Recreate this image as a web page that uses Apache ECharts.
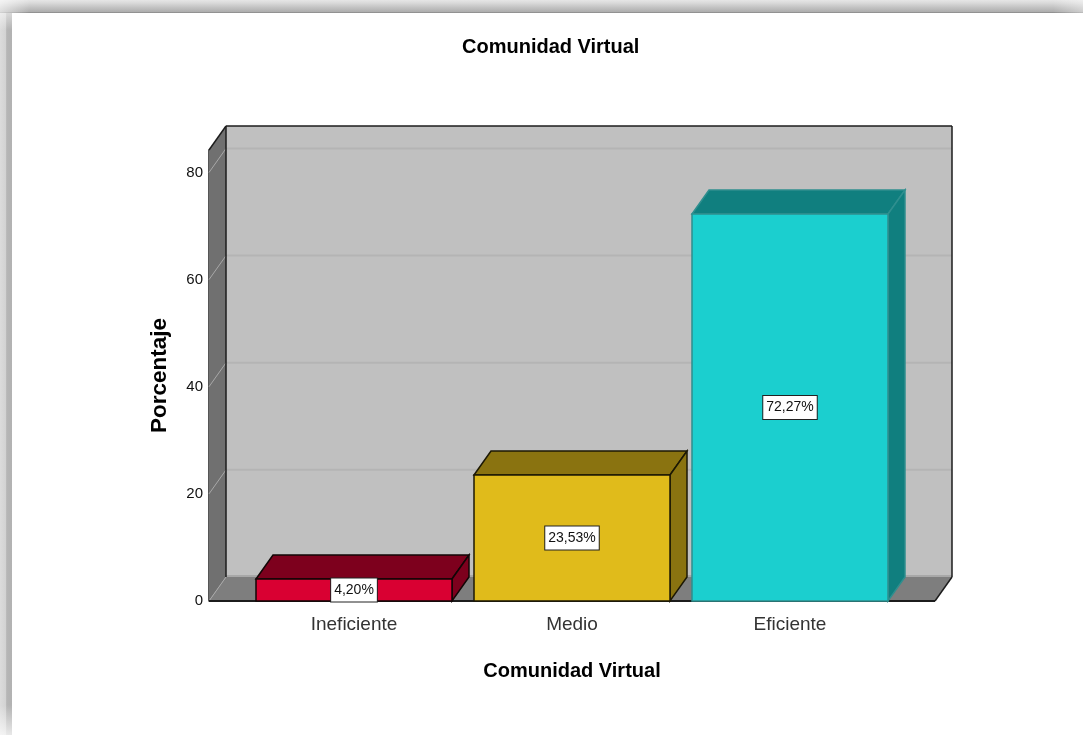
<!DOCTYPE html>
<html><head><meta charset="utf-8">
<style>html,body{margin:0;padding:0;background:#fff;overflow:hidden}#c{width:1083px;height:735px}</style>
<script src="https://cdn.jsdelivr.net/npm/echarts@6/dist/echarts.min.js"></script>
</head><body><div id="c"></div>
<script>
const categories = ['Ineficiente', 'Medio', 'Eficiente'];
const percentages = [4.2, 23.53, 72.27];
const percentLabels = ['4,20%', '23,53%', '72,27%'];
const frontColors = ['#d90032', '#e0bb1b', '#1bcfcf'];
const darkColors = ['#7d001d', '#8a7310', '#107f7f'];
const edgeColors = ['#120606', '#1c1804', '#2f8f8f'];
const gridValues = [20, 40, 60, 80];
const yTop = 84.2;

const DX = 17, DY = -24, BAR_FRACTION = 196 / 218, SIDE_BANDS = 145 / 218;
const FONT = '"Liberation Sans", Arial, sans-serif';

function poly(points, fill, stroke, lw) {
  return { type: 'polygon', shape: { points }, style: { fill, stroke: stroke || null, lineWidth: lw || 1 } };
}
function line(x1, y1, x2, y2, stroke, lw) {
  return { type: 'line', shape: { x1, y1, x2, y2 }, style: { stroke, lineWidth: lw || 1, fill: null } };
}

function renderRoom(params, api) {
  const band = api.size([1, 0])[0];
  const l = api.coord([0, 0])[0] - SIDE_BANDS * band;
  const r = api.coord([2, 0])[0] + SIDE_BANDS * band;
  const b = api.coord([0, 0])[1];
  const t = api.coord([0, yTop])[1];
  const k = '#1c1c1c';
  const children = [
    poly([[l + DX, t + DY], [r + DX, t + DY], [r + DX, b + DY], [l + DX, b + DY]], '#c0c0c0'),
    poly([[l, t], [l + DX, t + DY], [l + DX, b + DY], [l, b]], '#707070'),
    poly([[l, b], [l + DX, b + DY], [r + DX, b + DY], [r, b]], '#7e7e7e')
  ];
  gridValues.forEach(v => {
    const y = api.coord([0, v])[1];
    children.push(line(l + DX, y + DY, r + DX, y + DY, '#b4b4b4', 2));
    children.push(line(l, y, l + DX, y + DY, '#a8a8a8', 1));
  });
  children.push(line(l + DX, b + DY - 1, r + DX, b + DY - 1, '#a8a8a8', 2));
  children.push(line(l, b, l + DX, b + DY, '#a8a8a8', 1));
  children.push(line(l, t, l + DX, t + DY, k, 1.5));
  children.push(line(l + DX, t + DY, r + DX, t + DY, k, 1.5));
  children.push(line(r + DX, t + DY, r + DX, b + DY, k, 1.5));
  children.push(line(l + DX, t + DY, l + DX, b + DY, k, 1.5));
  children.push(line(r + DX, b + DY, r, b, k, 1.5));
  children.push(line(l, b, r, b, k, 2));
  return { type: 'group', children };
}

function renderBar(params, api) {
  const i = api.value(0);
  const c = api.coord([i, api.value(1)]);
  const base = api.coord([i, 0]);
  const w = api.size([1, 0])[0] * BAR_FRACTION;
  const x0 = Math.round(c[0] - w / 2), x1 = x0 + Math.round(w), y = Math.round(c[1]), b = base[1];
  const e = edgeColors[i];
  return {
    type: 'group',
    children: [
      poly([[x0, y], [x0 + DX, y + DY], [x1 + DX, y + DY], [x1, y]], darkColors[i], e, 1.5),
      poly([[x1, y], [x1 + DX, y + DY], [x1 + DX, b + DY], [x1, b]], darkColors[i], e, 1.5),
      { type: 'rect', shape: { x: x0, y, width: x1 - x0, height: b - y }, style: { fill: frontColors[i], stroke: e, lineWidth: 1.5 } },
      {
        type: 'text', x: (x0 + x1) / 2, y: (y + b) / 2,
        style: {
          text: percentLabels[i], font: '14px ' + FONT, fill: '#111', align: 'center', verticalAlign: 'middle',
          backgroundColor: '#fff', borderColor: '#222', borderWidth: 1, padding: [5, 3, 4, 3]
        }
      }
    ]
  };
}

function hGrad(a, b) { return { type: 'linear', x: 0, y: 0, x2: 1, y2: 0, colorStops: [{ offset: 0, color: a }, { offset: 1, color: b }] }; }
function vGrad(a, b) { return { type: 'linear', x: 0, y: 0, x2: 0, y2: 1, colorStops: [{ offset: 0, color: a }, { offset: 1, color: b }] }; }
const clearWhite = 'rgba(255,255,255,0)', softWhite = 'rgba(255,255,255,0.4)';

const chart = echarts.init(document.getElementById('c'), null, { renderer: 'canvas' });
chart.setOption({
  animation: false,
  backgroundColor: '#fff',
  title: {
    text: 'Comunidad Virtual', left: 457, top: 32,
    textStyle: { fontFamily: FONT, fontSize: 20, fontWeight: 'bold', color: '#000' }
  },
  grid: { left: 245, right: 184, top: 150, bottom: 134 },
  xAxis: {
    type: 'category', data: categories,
    name: 'Comunidad Virtual', nameLocation: 'middle', nameGap: 60,
    nameTextStyle: { fontFamily: FONT, fontSize: 20, fontWeight: 'bold', color: '#000' },
    axisLine: { show: false }, axisTick: { show: false },
    axisLabel: { fontFamily: FONT, fontSize: 19, color: '#333', margin: 14 }
  },
  yAxis: {
    type: 'value', min: 0, max: yTop, interval: 20, offset: 36,
    name: 'Porcentaje', nameLocation: 'middle', nameGap: 38, nameRotate: 90,
    nameTextStyle: { fontFamily: FONT, fontSize: 22.5, fontWeight: 'bold', color: '#000' },
    splitLine: { show: false },
    axisLine: { show: true, lineStyle: { color: '#1c1c1c', width: 1.5 } },
    axisTick: { show: false },
    axisLabel: { fontFamily: FONT, fontSize: 15, color: '#111', margin: 6, showMaxLabel: false, padding: [2, 0, 0, 0] }
  },
  graphic: [
    { type: 'rect', z: 100, shape: { x: 0, y: 0, width: 1083, height: 13 },
      style: { fill: { type: 'linear', x: 0, y: 0, x2: 0, y2: 1, colorStops: [
        { offset: 0, color: '#e6e6e6' }, { offset: 0.25, color: '#d8d8d8' }, { offset: 0.55, color: '#c4c4c4' },
        { offset: 0.9, color: '#aeaeae' }, { offset: 1, color: '#808080' }] } } },
    { type: 'rect', z: 100, shape: { x: 0, y: 13, width: 12, height: 722 },
      style: { fill: { type: 'linear', x: 0, y: 0, x2: 1, y2: 0, colorStops: [
        { offset: 0, color: '#dcdcdc' }, { offset: 0.5, color: '#d2d2d2' }, { offset: 0.55, color: '#b6b6b6' }, { offset: 1, color: '#b2b2b2' }] } } },
    { type: 'rect', z: 101, shape: { x: 0, y: 0, width: 30, height: 13 }, style: { fill: hGrad('rgba(255,255,255,0.6)', clearWhite) } },
    { type: 'rect', z: 101, shape: { x: 1053, y: 0, width: 30, height: 13 }, style: { fill: hGrad(clearWhite, softWhite) } },
    { type: 'rect', z: 101, shape: { x: 0, y: 13, width: 12, height: 17 }, style: { fill: vGrad('rgba(255,255,255,0.5)', clearWhite) } },
    { type: 'rect', z: 101, shape: { x: 0, y: 705, width: 12, height: 30 }, style: { fill: vGrad(clearWhite, 'rgba(255,255,255,0.7)') } }
  ],
  series: [
    { type: 'custom', coordinateSystem: 'cartesian2d', z: 1, clip: false, data: [[0, 0]], renderItem: renderRoom, silent: true },
    { type: 'custom', coordinateSystem: 'cartesian2d', z: 2, clip: false, data: percentages.map((v, i) => [i, v]), renderItem: renderBar, silent: true }
  ]
});
</script></body></html>
